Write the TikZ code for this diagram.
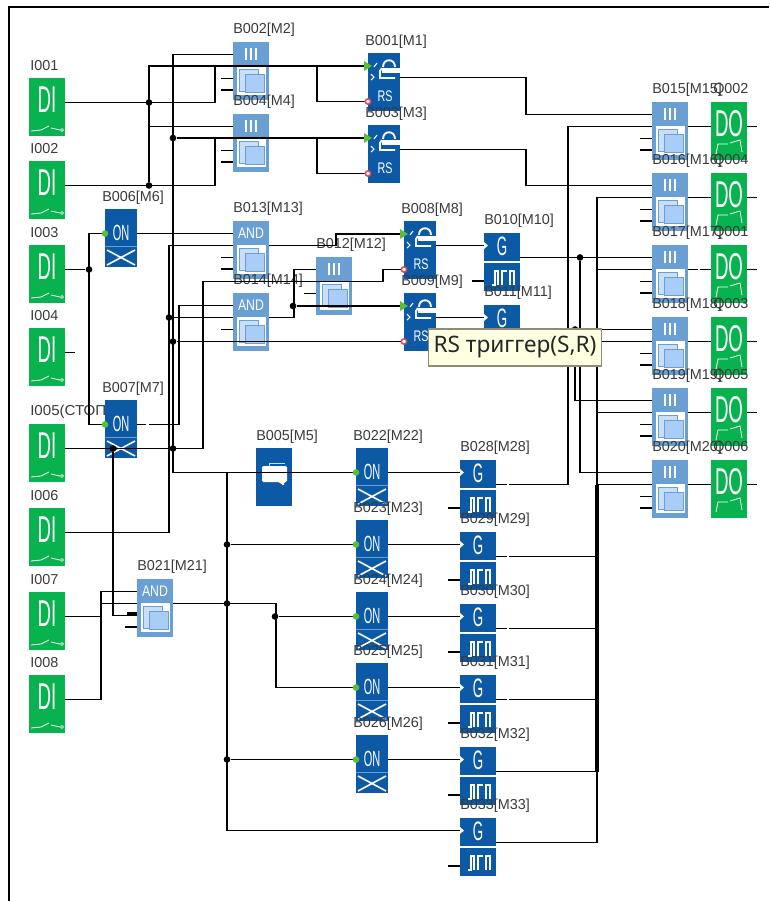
\documentclass[tikz,border=0pt]{standalone}
\usepackage{fontspec}
\setmainfont{Liberation Sans}
\newfontfamily\tipfont{Noto Sans}
\usepackage{xcolor}
\usetikzlibrary{calc}
\definecolor{plcGreen}{HTML}{08B24E}
\definecolor{plcBlue}{HTML}{0C5AA6}
\definecolor{plcLight}{HTML}{6A9FD3}
\definecolor{plcSky}{HTML}{A9CDF7}
\definecolor{plcPale}{HTML}{C9DFF8}
\definecolor{plcInk}{HTML}{3A3A3A}
\definecolor{tipFill}{HTML}{FFFFE1}
\definecolor{tipEdge}{HTML}{8C8C78}
\definecolor{dotGreen}{HTML}{5BBE3A}
\definecolor{dotRed}{HTML}{E8404A}
\tikzset{
  wire/.style={draw=black, line width=1.2pt},
  wirebus/.style={draw=black, line width=2.6pt},
  wiregap/.style={draw=white, line width=1.8pt},
  jdot/.style={circle, fill=black, minimum size=5pt, inner sep=0pt},
  greenbody/.style={fill=plcGreen, minimum width=27pt, minimum height=43pt, anchor=north west, inner sep=0pt},
  bluebody/.style={fill=plcBlue, minimum width=24pt, minimum height=43.5pt, anchor=north west, inner sep=0pt},
  lightbody/.style={fill=plcLight, minimum width=27pt, minimum height=43pt, anchor=north west, inner sep=0pt},
  gatebody/.style={fill=plcBlue, minimum width=27pt, minimum height=21pt, anchor=north west, inner sep=0pt},
  blocklabel/.style={anchor=west, inner sep=0pt, text=plcInk, font=\fontsize{10.8}{12}\selectfont},
  glyph/.style={text=white, inner sep=0pt},
  glyphline/.style={draw=white, line width=0.8pt},
  ondot/.style={circle, fill=dotGreen, minimum size=5pt, inner sep=0pt},
  rdot/.style={circle, fill=white, draw=dotRed, line width=1.1pt, minimum size=4pt, inner sep=0pt},
}
% DI input block, output on the right
\newcommand{\diblock}[3]{%
  \begin{scope}[shift={#2}]
    \node[greenbody] (#1) at (0,0) {};
    \node[glyph,font=\fontsize{28}{28}\selectfont] (#1-txt) at (18,22) {\scalebox{.5}[1]{DI}};
    \draw[glyphline,line width=.6pt] (2,53) -- (12,52) -- (20,48) (22,50) -- (31,52);
    \draw[glyphline,line width=.5pt] (33,52) circle (1.5);
    \coordinate (#1-o) at (36,24.5);
    \node[blocklabel] (#1-lab) at (1,-12) {#3};
  \end{scope}
}
% DO output block
\newcommand{\doblock}[3]{%
  \begin{scope}[shift={#2}]
    \node[greenbody] (#1) at (0,0) {};
    \node[glyph,font=\fontsize{28}{28}\selectfont] (#1-txt) at (18,22) {\scalebox{.5}[1]{DO}};
    \draw[glyphline,line width=.6pt] (5,52) -- (7,42) -- (17,42) (19,41) -- (29,38) -- (31,50);
    \coordinate (#1-i) at (0,24.5);
    \coordinate (#1-o) at (36,24.5);
    \node[blocklabel] (#1-lab) at (2,-12) {#3};
  \end{scope}
}
% light block: OR or AND, #4 is the header drawing
\newcommand{\lightblock}[4]{%
  \begin{scope}[shift={#2}]
    \node[lightbody] (#1) at (0,0) {};
    \fill[white] (3.5,24) rectangle (32.5,53);
    \filldraw[fill=plcPale,draw=plcLight,line width=.7pt] (6,27) rectangle (25,49);
    \filldraw[fill=plcSky,draw=plcLight,line width=.7pt] (12,32) rectangle (31,50);
    #4
    \coordinate (#1-a) at (0,12.5);
    \coordinate (#1-b) at (0,24.5);
    \coordinate (#1-c) at (0,36.5);
    \coordinate (#1-d) at (0,48);
    \coordinate (#1-o) at (36,24.5);
    \node[blocklabel] (#1-lab) at (0,-12) {#3};
  \end{scope}
}
\newcommand{\orhead}{%
  \foreach \bx in {13,18,23}{\draw[glyphline,line width=.8pt] (\bx,6) -- (\bx,18);}
}
\newcommand{\andhead}[1]{%
  \node[glyph,font=\fontsize{11.5}{12}\selectfont] (#1-txt) at (18,12) {\scalebox{.8}[1]{AND}};
}
% RS trigger
\newcommand{\rsblock}[3]{%
  \begin{scope}[shift={#2}]
    \node[bluebody] (#1) at (0,0) {};
    \draw[glyphline,line width=1.4pt] (15,14) .. controls (15,5) and (27,5) .. (27,14);
    \fill[white] (14,15) rectangle (32,20);
    \draw[glyphline,line width=1.4pt] (14,15) -- (12,18) -- (12,25) -- (27,25);
    \draw[glyphline] (6,14) -- (9,10) (3,21) -- (6,24) -- (3,27);
    \node[glyph,font=\fontsize{11.5}{12}\selectfont] (#1-txt) at (17,43) {\scalebox{.7}[1]{RS}};
    \coordinate (#1-s) at (0,13);
    \coordinate (#1-r) at (0,48.5);
    \coordinate (#1-o) at (32,24.5);
    \node[blocklabel] (#1-lab) at (-3,-11) {#3};
  \end{scope}
}
% ON delay
\newcommand{\onblock}[3]{%
  \begin{scope}[shift={#2}]
    \node[bluebody] (#1) at (0,0) {};
    \node[glyph,font=\fontsize{16.5}{17}\selectfont] (#1-txt) at (16,24) {\scalebox{.5}[1]{ON}};
    \draw[plcLight,line width=.6pt] (0,37) -- (32,37);
    \draw[glyphline,line width=1.2pt] (2,41) -- (30,56) (30,41) -- (2,56);
    \coordinate (#1-i) at (0,24.5);
    \coordinate (#1-o) at (32,24.5);
    \node[blocklabel] (#1-lab) at (-3,-11) {#3};
  \end{scope}
}
% generator: G on top, pulses below
\newcommand{\genblock}[3]{%
  \begin{scope}[shift={#2}]
    \node[gatebody] (#1) at (0,0) {};
    \node[gatebody,minimum height=20.5pt] (#1-low) at (0,30) {};
    \fill[white] (0,9) -- (4,12.5) -- (0,16) -- cycle;
    \node[glyph,font=\fontsize{20}{20}\selectfont] (#1-txt) at (18,13) {\scalebox{.5}[1]{G}};
    \draw[glyphline] (8,52) -- (11,52) -- (11,38) -- (14,38) -- (14,52)
      (18,52) -- (18,38) -- (23,38) (26,52) -- (26,38) -- (30,38) -- (30,52);
    \coordinate (#1-i) at (0,12.5);
    \coordinate (#1-l) at (0,48);
    \coordinate (#1-o) at (36,24.5);
    \node[blocklabel] (#1-lab) at (0,-12) {#3};
  \end{scope}
}

\begin{document}
\begin{tikzpicture}[x=0.75pt,y=-0.75pt]
\useasboundingbox (0,0) rectangle (769,901);

% frame
\draw[black,line width=1.6pt] (769,7) -- (9,7) -- (9,901);

% --- inputs ---
\diblock{I001}{(29,78)}{I001}
\diblock{I002}{(29,161)}{I002}
\diblock{I003}{(29,245)}{I003}
\diblock{I004}{(29,328)}{I004}
\diblock{I005}{(29,424)}{\scalebox{1.05}[1]{I005(СТОП}}
\diblock{I006}{(29,508)}{I006}
\diblock{I007}{(29,592)}{I007}
\diblock{I008}{(29,675)}{I008}

% --- logic blocks ---
\lightblock{B002}{(233,42)}{B002[M2]}{\orhead}
\lightblock{B004}{(233,114)}{B004[M4]}{\orhead}
\lightblock{B013}{(233,221)}{B013[M13]}{\andhead{B013}}
\lightblock{B012}{(316,257)}{B012[M12]}{\orhead}
\lightblock{B014}{(233,293)}{B014[M14]}{\andhead{B014}}
\lightblock{B021}{(137,579)}{B021[M21]}{\andhead{B021}}
\rsblock{B001}{(368,53)}{B001[M1]}
\rsblock{B003}{(368,125)}{B003[M3]}
\rsblock{B008}{(404,221)}{B008[M8]}
\rsblock{B009}{(404,293)}{B009[M9]}
\onblock{B006}{(105,209)}{B006[M6]}
\onblock{B007}{(105,400)}{B007[M7]}
\onblock{B022}{(356,448)}{B022[M22]}
\onblock{B023}{(356,520)}{B023[M23]}
\onblock{B024}{(356,592)}{B024[M24]}
\onblock{B025}{(356,663)}{B025[M25]}
\onblock{B026}{(356,735)}{B026[M26]}
\genblock{B010}{(484,233)}{B010[M10]}
\genblock{B011}{(484,305)}{B011[M11]}
\genblock{B028}{(460,460)}{B028[M28]}
\genblock{B029}{(460,532)}{B029[M29]}
\genblock{B030}{(460,604)}{B030[M30]}
\genblock{B031}{(460,675)}{B031[M31]}
\genblock{B032}{(460,747)}{B032[M32]}
\genblock{B033}{(460,818)}{B033[M33]}

% message block
\node[bluebody,minimum width=27pt] (B005) at (256,448) {};
\fill[white,rounded corners=1pt] (262,466) -- (287,466) -- (287,482) -- (284,482) -- (284,486) -- (279,482) -- (262,482) -- cycle;
\draw[plcPale,line width=.6pt] (269,466) -- (269,463) -- (285,463);
\node[blocklabel] (B005-lab) at (256,437) {B005[M5]};

% --- output column ---
\lightblock{B015}{(652,102)}{B015[M15]}{\orhead}
\doblock{Q002}{(711,102)}{Q002}
\lightblock{B016}{(652,173)}{B016[M16]}{\orhead}
\doblock{Q004}{(711,173)}{Q004}
\lightblock{B017}{(652,245)}{B017[M17]}{\orhead}
\doblock{Q001}{(711,245)}{Q001}
\lightblock{B018}{(652,317)}{B018[M18]}{\orhead}
\doblock{Q003}{(711,317)}{Q003}
\lightblock{B019}{(652,388)}{B019[M19]}{\orhead}
\doblock{Q005}{(711,388)}{Q005}
\lightblock{B020}{(652,460)}{B020[M20]}{\orhead}
\doblock{Q006}{(711,460)}{Q006}

% --- junctions ---
\node[jdot] (jA) at (149,0 |- I001-o) {};
\node[jdot] (jB) at (149,0 |- I002-o) {};
\node[jdot] (jC) at (173,0 |- B003-s) {};
\node[jdot] (jD) at (89,0 |- I003-o) {};
\node[jdot] (jE) at (169,0 |- B014-b) {};
\node[jdot] (jF) at (173,0 |- B009-r) {};
\node[jdot] (jG) at (113,0 |- I005-o) {};
\node[jdot] (jH) at (173,0 |- I005-o) {};
\node[jdot] (jI) at (293,0 |- B009-s) {};
\node[jdot] (jK) at (227,0 |- B023-i) {};
\node[jdot] (jL) at (227,0 |- B021-o) {};
\node[jdot] (jM) at (227,0 |- B026-i) {};
\node[jdot] (jN) at (275,0 |- B024-i) {};
\node[jdot] (jO) at (580,0 |- B010-o) {};
\node[jdot] (jP) at (575,0 |- B011-o) {};
\coordinate (tA) at (149,0 |- B001-s);
\coordinate (tB) at (149,0 |- B004-a);
\coordinate (tC) at (317,0 |- B001-s);
\coordinate (tD) at (317,0 |- B003-s);
\coordinate (tE) at (101,0 |- B021-b);
\coordinate (tF) at (227,0 |- B022-i);

% --- wires, left half ---
\draw[wire] (I001-o) -| (215,0 |- B001-s);
\draw[wire] (jB) -- (tA) -- (B001-s);
\draw[wire] (I002-o) -| (215,0 |- B003-s);
\draw[wire] (jC) -- (B003-s);
\draw[wire] (tB) -- (B004-a);
\draw[wire] (B002-a) -- ++(-60,0) |- (B022-i);
\draw[wire] (tC) |- (B001-r);
\draw[wire] (tD) |- (B003-r);
\draw[wire] (I003-o) -- (jD);
\draw[wire] (B006-i) -- ++(-16,0) |- (B007-i);
\draw[wire] (B006-o) -- (B013-a);
\draw[wire] (B013-o) -- ++(67,0) |- (B008-s);
\draw[wire] (B013-b) -- ++(-64,0) |- (I006-o);
\draw[wire] (jE) -- (B014-b);
\draw[wire] (jF) -- (B009-r);
\draw[wire] (B014-a) -- ++(-54,0) |- (B007-o);
\draw[wire] (I005-o) -- (203,0 |- I005-o) |- (383,0 |- B012-b) |- (B008-r);
\draw[wire] (B014-o) -- ++(25,0) |- (B012-a);
\draw[wire] (jI) -- (B009-s);
\draw[wire] (jG) |- (B021-c);
\draw[wire] (I007-o) -- (tE |- I007-o);
\draw[wire] (I008-o) -- ++(36,0) |- (B021-a);
\draw[wire] (tE) -- (B021-b);
\draw[wire] (B021-o) -- ++(103,0) |- (B025-i);
\draw[wire] (jN) -- (B024-i);
\draw[wire] (tF) |- (B033-i);
\draw[wire] (jK) -- (B023-i);
\draw[wire] (jM) -- (B026-i);
\draw[wire] (B008-o) -- (B010-i);
\draw[wire] (B009-o) -- (B011-i);

% ON outputs into generators
\foreach \from/\to in {B022/B028,B023/B029,B024/B030,B025/B031,B026/B032}{
  \draw[wire] (\from-o) -- (\to-i);
}

% --- wires, right half ---
\draw[wire] (B001-o) -- ++(126,0) |- (B015-a);
\draw[wire] (B003-o) -- ++(126,0) |- (B016-a);
\draw[wire] (B028-o) -- ++(72,0) |- (B015-b);
\draw[wire] (B010-o) -- (B017-a);
\draw[wire] (jO) |- (B020-a);
\draw[wire] (B011-o) -- (B018-a);
\draw[wire] (jP) |- (B019-a);
\draw[wire] (B016-b) -- ++(-55,0) |- (B033-o);
\foreach \blk in {B017,B018,B019,B020}{
  \draw[wire] (\blk-b) -- ++(-55,0);
}
\foreach \blk in {B029,B030,B031,B032}{
  \draw[wire] (\blk-o) -- (597,0 |- \blk-o);
}
\draw[wirebus] (597,0 |- B020-b) -- (597,0 |- B032-o);
\foreach \from/\to in {B015/Q002,B016/Q004,B017/Q001,B018/Q003,B019/Q005,B020/Q006}{
  \draw[wire] (\from-o) -- (\to-i);
  \draw[wire] (\to-o) -- ++(10,0);
}

% open input stubs
\foreach \p in {B002-c,B002-d,B004-c,B004-d,B013-c,B013-d,B014-c,B012-c,B021-d,
    B015-c,B015-d,B016-c,B016-d,B017-c,B017-d,B018-c,B018-d,B019-c,B019-d,B020-c,B020-d,
    B010-l,B028-l,B029-l,B030-l,B031-l,B032-l,B033-l}{
  \draw[wire] (\p) -- ++(-12,0);
}
\draw[wire] (I004-o) -- ++(10,0);
\draw[black,line width=3pt] ($(B021-c)+(-10,-2)$) -- ($(B021-c)+(0,-2)$);

% small breaks in some outputs
\draw[wiregap] ($(B007-o)+(9,0)$) -- ++(3,0);
\draw[wiregap] ($(B017-o)+(9.5,0)$) -- ++(2.5,0);
\foreach \blk in {B028,B029,B030,B031}{
  \draw[wiregap] ($(\blk-o)+(10.5,0)$) -- ++(2.5,0);
}

% input markers go over the wire ends
\foreach \p in {B006-i,B007-i,B022-i,B023-i,B024-i,B025-i,B026-i}{
  \node[ondot] (\p-dot) at (\p) {};
}
\foreach \p in {B001-s,B003-s,B008-s,B009-s}{
  \fill[dotGreen] ($(\p)+(-4,-5)$) -- ($(\p)+(4,0)$) -- ($(\p)+(-4,5)$) -- cycle;
}
\foreach \p in {B001-r,B003-r,B008-r,B009-r}{
  \node[rdot] (\p-dot) at (\p) {};
}

% tooltip
\node[fill=tipFill,draw=tipEdge,line width=1.2pt,minimum width=130pt,minimum height=27.5pt,
  inner sep=0pt,text=black!85,font=\tipfont\fontsize{17}{18}\selectfont] (tip) at (515,347.5) {RS триггер(S,R)};

\end{tikzpicture}
\end{document}
